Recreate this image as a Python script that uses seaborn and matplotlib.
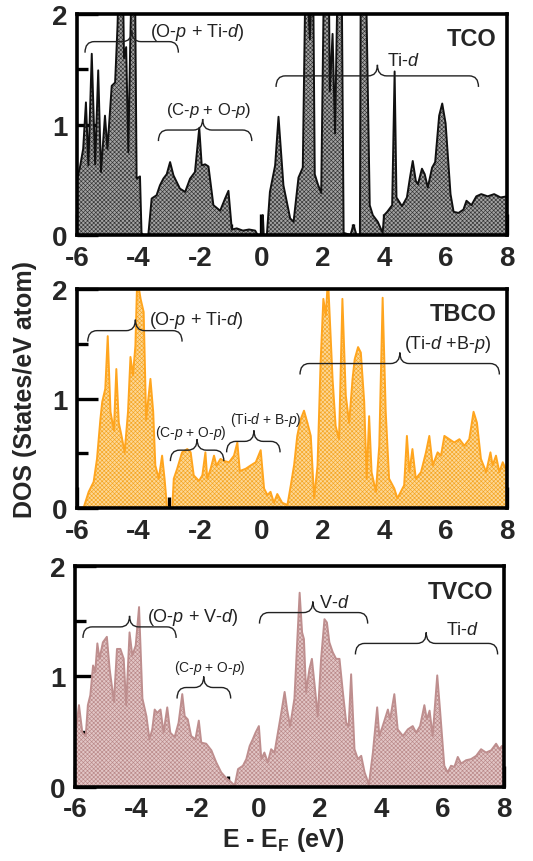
import matplotlib
matplotlib.use("Agg")
import matplotlib.pyplot as plt
import seaborn as sns
import pandas as pd
from matplotlib.path import Path
from matplotlib.patches import PathPatch
from matplotlib.ticker import MultipleLocator

# Estilo
sns.set_style("ticks")
plt.rcParams['font.family'] = ['Liberation Sans', 'DejaVu Sans']
plt.rcParams['mathtext.fontset'] = 'custom'
plt.rcParams['mathtext.rm'] = 'Liberation Sans'
plt.rcParams['mathtext.it'] = 'Liberation Sans:italic'
plt.rcParams['mathtext.bf'] = 'Liberation Sans:bold'
plt.rcParams['axes.unicode_minus'] = False
plt.rcParams['hatch.linewidth'] = 0.45

# Datos: energia (eV) y DOS (states/eV atom)
tco_e = [-6.0, -5.9, -5.8, -5.71, -5.63, -5.52, -5.41, -5.31, -5.22, -5.09, -5.01, -4.87, -4.76,
         -4.68, -4.62, -4.52, -4.47, -4.40, -4.33, -4.27, -4.20, -4.12, -4.06, -3.95, -3.90, -3.85,
         -3.68, -3.57, -3.41, -3.30, -3.19, -3.08, -2.97, -2.86, -2.65, -2.48, -2.32, -2.16, -2.02,
         -1.94, -1.83, -1.72, -1.56, -1.34, -1.18, -1.07, -0.96, -0.80, -0.60, -0.40, -0.20, -0.12,
         0.02, 0.05, 0.08, 0.18, 0.28, 0.45, 0.56, 0.72, 0.94, 1.05, 1.21, 1.35, 1.45, 1.58, 1.68,
         1.74, 1.84, 1.95, 2.05, 2.19, 2.23, 2.32, 2.40, 2.50, 2.61, 2.68, 2.90, 3.00, 3.10, 3.21,
         3.24, 3.39, 3.53, 3.63, 3.79, 3.95, 4.00, 4.10, 4.26, 4.34, 4.40, 4.58, 4.74, 4.84, 4.93,
         5.03, 5.10, 5.23, 5.32, 5.42, 5.56, 5.66, 5.79, 5.89, 6.00, 6.16, 6.26, 6.42, 6.58, 6.68,
         6.84, 7.00, 7.16, 7.37, 7.58, 7.79, 8.00]
tco_dos = [0.50, 0.62, 0.78, 1.20, 0.63, 1.64, 0.64, 1.49, 0.57, 1.08, 0.78, 1.35, 1.38,
           1.90, 2.60, 2.60, 1.60, 1.70, 0.75, 1.70, 2.60, 2.60, 0.51, 0.53, 0.02, 0.00,
           0.00, 0.33, 0.36, 0.45, 0.51, 0.55, 0.66, 0.54, 0.42, 0.39, 0.51, 0.57, 0.97,
           0.63, 0.64, 0.62, 0.27, 0.22, 0.33, 0.40, 0.05, 0.06, 0.04, 0.05, 0.04, 0.00,
           0.00, 0.18, 0.00, 0.00, 0.39, 0.63, 1.07, 0.45, 0.15, 0.12, 0.52, 0.61, 2.60, 1.77, 2.60,
           0.55, 0.46, 0.38, 2.60, 2.60, 1.30, 1.82, 0.92, 2.60, 2.60, 0.02, 0.00, 0.09, 0.00, 0.00,
           2.60, 2.60, 0.27, 0.18, 0.12, 0.02, 0.18, 0.21, 0.27, 1.48, 0.34, 0.26, 0.34, 0.52, 0.67,
           0.49, 0.46, 0.60, 0.55, 0.43, 0.61, 0.66, 1.08, 1.19, 1.01, 0.37, 0.21, 0.20, 0.23, 0.31,
           0.27, 0.35, 0.37, 0.35, 0.37, 0.34, 0.35]

tbco_e = [-6.0, -5.85, -5.78, -5.62, -5.46, -5.35, -5.24, -5.18, -5.08, -5.00, -4.91, -4.80, -4.72,
          -4.64, -4.55, -4.45, -4.34, -4.26, -4.18, -4.10, -4.04, -3.93, -3.83, -3.75, -3.61, -3.52,
          -3.45, -3.34, -3.23, -3.15, -3.07, -2.90, -2.85, -2.74, -2.58, -2.41, -2.30, -2.20, -2.03,
          -1.92, -1.82, -1.76, -1.65, -1.54, -1.46, -1.33, -1.20, -1.05, -0.89, -0.78, -0.70, -0.51,
          -0.35, -0.18, -0.02, 0.09, 0.20, 0.30, 0.41, 0.52, 0.68, 0.85, 0.96, 1.07, 1.17, 1.28,
          1.39, 1.50, 1.61, 1.72, 1.83, 1.93, 2.02, 2.10, 2.17, 2.32, 2.42, 2.53, 2.64, 2.75, 2.86,
          2.97, 3.04, 3.15, 3.24, 3.35, 3.43, 3.51, 3.59, 3.73, 3.84, 3.95, 4.05, 4.16, 4.33, 4.43,
          4.54, 4.65, 4.74, 4.82, 4.92, 5.03, 5.20, 5.36, 5.47, 5.58, 5.74, 5.85, 5.96, 6.12, 6.28,
          6.45, 6.61, 6.77, 6.91, 7.02, 7.15, 7.32, 7.46, 7.53, 7.64, 7.75, 7.86, 8.00]
tbco_dos = [0.00, 0.00, 0.01, 0.15, 0.24, 0.45, 0.81, 0.97, 1.09, 1.57, 0.88, 0.71, 1.27,
            0.78, 0.66, 0.51, 0.88, 1.38, 1.21, 1.48, 2.10, 1.91, 1.79, 0.81, 1.18, 0.88,
            0.39, 0.27, 0.48, 0.27, 0.01, 0.00, 0.27, 0.36, 0.51, 0.54, 0.51, 0.30, 0.25,
            0.30, 0.51, 0.27, 0.36, 0.48, 0.39, 0.45, 0.43, 0.42, 0.48, 0.60, 0.34, 0.36,
            0.39, 0.42, 0.53, 0.18, 0.12, 0.15, 0.05, 0.13, 0.05, 0.03, 0.21, 0.40, 0.66, 0.81,
            0.89, 0.78, 0.66, 0.09, 0.39, 1.33, 1.91, 1.76, 2.10, 1.18, 0.75, 0.63, 1.91, 1.03, 0.78,
            1.18, 1.36, 1.47, 1.42, 0.97, 0.27, 0.84, 0.33, 0.15, 0.57, 1.92, 0.88, 0.27, 0.18, 0.09,
            0.15, 0.21, 0.66, 0.33, 0.54, 0.27, 0.33, 0.51, 0.66, 0.39, 0.51, 0.48, 0.66, 0.63, 0.60,
            0.63, 0.57, 0.63, 0.88, 0.78, 0.45, 0.33, 0.51, 0.39, 0.48, 0.33, 0.42, 0.33]

tvco_e = [-6.0, -5.98, -5.87, -5.76, -5.65, -5.58, -5.50, -5.41, -5.34, -5.27, -5.20, -5.09, -4.96,
          -4.87, -4.73, -4.63, -4.52, -4.41, -4.33, -4.22, -4.13, -4.02, -3.91, -3.80, -3.67, -3.57,
          -3.48, -3.40, -3.32, -3.21, -3.11, -2.99, -2.89, -2.75, -2.62, -2.50, -2.42, -2.32, -2.21,
          -2.07, -1.96, -1.88, -1.72, -1.55, -1.39, -1.23, -1.07, -0.90, -0.79, -0.68, -0.52, -0.41,
          -0.30, -0.20, -0.11, 0.00, 0.08, 0.18, 0.29, 0.40, 0.51, 0.62, 0.73, 0.84, 0.92, 1.02,
          1.16, 1.25, 1.33, 1.41, 1.47, 1.54, 1.65, 1.73, 1.82, 1.92, 2.03, 2.14, 2.22, 2.30, 2.41,
          2.52, 2.63, 2.74, 2.85, 2.93, 3.01, 3.12, 3.23, 3.34, 3.45, 3.59, 3.72, 3.86, 3.93, 4.04,
          4.21, 4.28, 4.42, 4.53, 4.70, 4.86, 5.02, 5.13, 5.26, 5.40, 5.48, 5.57, 5.67, 5.82, 5.91,
          6.05, 6.16, 6.27, 6.38, 6.49, 6.60, 6.76, 6.92, 7.09, 7.25, 7.41, 7.58, 7.74, 7.85, 7.93, 8.00]
tvco_dos = [0.45, 0.49, 0.74, 0.49, 0.46, 0.74, 0.83, 1.10, 1.04, 1.30, 1.16, 1.31, 1.36,
            1.07, 0.77, 1.25, 1.25, 1.16, 0.74, 1.40, 1.19, 1.28, 1.63, 0.80, 0.64, 0.43,
            0.52, 0.70, 0.67, 0.70, 0.49, 0.72, 0.49, 0.45, 0.58, 0.84, 0.64, 0.61, 0.46,
            0.43, 0.60, 0.40, 0.39, 0.33, 0.22, 0.13, 0.08, 0.04, 0.01, 0.16, 0.19, 0.25,
            0.37, 0.43, 0.49, 0.55, 0.25, 0.31, 0.22, 0.34, 0.31, 0.49, 0.67, 0.86, 0.70, 0.55,
            0.80, 1.31, 1.76, 1.40, 1.34, 0.86, 1.07, 1.16, 0.92, 0.64, 1.16, 1.52, 1.49, 1.31, 1.22,
            1.16, 1.16, 0.86, 0.58, 0.55, 1.02, 0.34, 0.25, 0.28, 0.13, 0.02, 0.31, 0.72, 0.46, 0.55,
            0.70, 0.61, 0.84, 0.52, 0.46, 0.52, 0.55, 0.49, 0.55, 0.74, 0.61, 0.69, 0.46, 1.01, 0.70,
            0.19, 0.13, 0.19, 0.18, 0.27, 0.21, 0.24, 0.25, 0.28, 0.34, 0.31, 0.33, 0.39, 0.34, 0.37, 0.35]

nombres = ['TCO', 'TBCO', 'TVCO']
series = [(tco_e, tco_dos), (tbco_e, tbco_dos), (tvco_e, tvco_dos)]
colores_linea = ['#111111', '#FFA51E', '#BE8E8E']
colores_relleno = ['#a3a3a3', '#FDD796', '#E2C6C6']
colores_trama = ['#333333', '#F4A420', '#B98888']

# Anotaciones con llaves: (x0, x1, punta, y, texto, x_texto, y_texto, tamano)
anotaciones = [
    [(-5.74, -2.70, -4.22, 1.75, r'(O-$\it{p}$ + Ti-$\it{d}$)', -2.10, 1.84, 13),
     (-3.35, -0.31, -1.91, 0.95, r'(C-$\it{p}$ + O-$\it{p}$)', -1.72, 1.14, 12),
     (0.48, 7.07, 3.78, 1.44, r'Ti-$\it{d}$', 4.63, 1.58, 13)],
    [(-5.65, -2.58, -4.10, 1.62, r'(O-$\it{p}$ + Ti-$\it{d}$)', -2.11, 1.72, 13),
     (1.26, 7.75, 4.51, 1.32, r'(Ti-$\it{d}$ +B-$\it{p}$)', 6.07, 1.50, 13),
     (-2.96, -1.22, -2.09, 0.53, r'(C-$\it{p}$ + O-$\it{p}$)', -2.28, 0.70, 10),
     (-1.13, 0.61, -0.24, 0.61, r'(Ti-$\it{d}$ + B-$\it{p}$)', 0.14, 0.81, 10)],
    [(-5.74, -2.70, -4.22, 1.45, r'(O-$\it{p}$ + V-$\it{d}$)', -2.15, 1.54, 13),
     (-2.67, -0.92, -1.80, 0.90, r'(C-$\it{p}$ + O-$\it{p}$)', -1.61, 1.09, 10),
     (0.02, 3.55, 1.76, 1.58, r'V-$\it{d}$', 2.45, 1.67, 13),
     (3.15, 7.79, 5.46, 1.30, r'Ti-$\it{d}$', 6.65, 1.43, 13)],
]


def llave(ax, x0, x1, xt, y, h=0.10, r=0.3):
    verts = [(x0, y - h), (x0, y), (x0 + r, y),
             (xt - r, y), (xt, y), (xt, y + h),
             (xt, y), (xt + r, y),
             (x1 - r, y), (x1, y), (x1, y - h)]
    codes = [Path.MOVETO, Path.CURVE3, Path.CURVE3,
             Path.LINETO, Path.CURVE3, Path.CURVE3,
             Path.CURVE3, Path.CURVE3,
             Path.LINETO, Path.CURVE3, Path.CURVE3]
    ax.add_patch(PathPatch(Path(verts, codes), fill=False, lw=1.0,
                           ec='#222222', clip_on=False, zorder=5))


fig = plt.figure(figsize=(5.33, 8.62), dpi=100)
posiciones = [[0.1445, 0.7262, 0.8068, 0.2564],
              [0.1445, 0.4092, 0.8068, 0.2544],
              [0.1407, 0.0862, 0.8050, 0.2557]]

for i in range(3):
    ax = fig.add_axes(posiciones[i])
    e, d = series[i]
    df = pd.DataFrame({'E': e, 'DOS': d})
    ax.fill_between(df['E'], 0, df['DOS'], facecolor=colores_relleno[i],
                    edgecolor=colores_trama[i], hatch='xxxxxxxx', linewidth=0, zorder=1)
    sns.lineplot(data=df, x='E', y='DOS', ax=ax, color=colores_linea[i],
                 lw=1.4, sort=False, estimator=None, zorder=2)

    ax.set_xlim(-6, 8)
    ax.set_ylim(0, 2)
    ax.set_xlabel('')
    ax.set_ylabel('')
    ax.xaxis.set_major_locator(MultipleLocator(2))
    ax.xaxis.set_minor_locator(MultipleLocator(1))
    ax.yaxis.set_major_locator(MultipleLocator(1))
    ax.yaxis.set_minor_locator(MultipleLocator(0.5))
    ax.tick_params(which='major', direction='in', length=15, width=2.4,
                   labelsize=20, pad=7, color='black')
    ax.tick_params(which='minor', direction='in', length=8, width=2.4, color='black')
    for lab in ax.get_xticklabels() + ax.get_yticklabels():
        lab.set_fontweight('bold')
    for s in ax.spines.values():
        s.set_linewidth(2.6)
        s.set_color('black')
        s.set_zorder(6)

    ax.text(0.975, 0.887, nombres[i], transform=ax.transAxes, ha='right',
            va='center', fontsize=17, fontweight='bold')

    for (x0, x1, xt, y, txt, xtx, ytx, fs) in anotaciones[i]:
        llave(ax, x0, x1, xt, y)
        ax.text(xtx, ytx, txt, ha='center', va='center', fontsize=fs, color='#222222')

fig.text(0.047, 0.548, 'DOS (States/eV atom)', rotation=90, ha='center',
         va='center', fontsize=18, fontweight='bold')
fig.text(0.531, 0.025, r'E - E$_\mathbf{F}$ (eV)', ha='center', va='center',
         fontsize=18, fontweight='bold')

fig.savefig('out.png', dpi=100)
